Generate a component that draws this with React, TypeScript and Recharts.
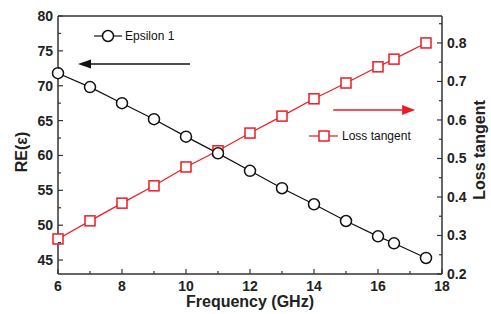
import React from "react"
import { ComposedChart, Line, XAxis, YAxis, ReferenceLine } from "recharts"

const freq = [6, 7, 8, 9, 10, 11, 12, 13, 14, 15, 16, 16.5, 17.5]
const epsilon = [71.8, 69.8, 67.5, 65.2, 62.7, 60.3, 57.8, 55.3, 53.0, 50.6, 48.4, 47.4, 45.3]
const lossTangent = [0.291, 0.338, 0.384, 0.429, 0.478, 0.52, 0.566, 0.61, 0.655, 0.696, 0.738, 0.758, 0.8]

const xMajor = [6, 8, 10, 12, 14, 16, 18]
const xMinor = [7, 9, 11, 13, 15, 17]
const epsMajor = [45, 50, 55, 60, 65, 70, 75, 80]
const epsMinor = [47.5, 52.5, 57.5, 62.5, 67.5, 72.5, 77.5]
const lossMajor = [0.2, 0.3, 0.4, 0.5, 0.6, 0.7, 0.8]
const lossMinor = [0.25, 0.35, 0.45, 0.55, 0.65, 0.75, 0.85]

const data = freq.map((f, i) => ({ f, eps: epsilon[i], loss: lossTangent[i] }))

const AXIS = "#333"
const RED = "#ec1c24"
const FONT = "'Liberation Sans', Arial, sans-serif"

const BottomTick = ({ x, y, payload }: any) => {
  const major = xMajor.includes(payload.value)
  return (
    <g>
      <line x1={x} x2={x} y1={y} y2={y - (major ? 5 : 3)} stroke={AXIS} strokeWidth={1.2} />
      {major && (
        <text x={x} y={y + 17} textAnchor="middle" fontFamily={FONT} fontWeight="bold" fontSize={14} fill="#222">
          {payload.value}
        </text>
      )}
    </g>
  )
}

const LeftTick = ({ x, y, payload }: any) => {
  const major = epsMajor.includes(payload.value)
  return (
    <g>
      <line x1={x} x2={x + (major ? 5 : 3)} y1={y} y2={y} stroke={AXIS} strokeWidth={1.2} />
      {major && (
        <text x={x - 5} y={y + 5} textAnchor="end" fontFamily={FONT} fontWeight="bold" fontSize={14} fill="#222">
          {payload.value}
        </text>
      )}
    </g>
  )
}

const RightTick = ({ x, y, payload }: any) => {
  const major = lossMajor.includes(payload.value)
  return (
    <g>
      <line x1={x} x2={x - (major ? 5 : 3)} y1={y} y2={y} stroke={AXIS} strokeWidth={1.2} />
      {major && (
        <text x={x + 5} y={y + 5} textAnchor="start" fontFamily={FONT} fontWeight="bold" fontSize={14} fill="#222">
          {payload.value.toFixed(1)}
        </text>
      )}
    </g>
  )
}

const SquareDot = (props: any) => {
  const { cx, cy, index } = props
  return <rect key={index} x={cx - 5} y={cy - 5} width={10} height={10} fill="#fff" stroke={RED} strokeWidth={1.5} />
}

const arrowShape = (color: string, head: number, half: number) => (props: any) => {
  const { x1, y1, x2, y2 } = props
  const dir = Math.sign(x2 - x1)
  return (
    <g>
      <line x1={x1} y1={y1} x2={x2 - dir * head} y2={y2} stroke={color} strokeWidth={1.5} />
      <polygon points={`${x2},${y2} ${x2 - dir * head},${y2 - half} ${x2 - dir * head},${y2 + half}`} fill={color} />
    </g>
  )
}

export default function App() {
  return (
    <div style={{ position: "absolute", left: 0, top: 0, width: 491, height: 314, background: "#fff" }}>
      <ComposedChart width={491} height={314} data={data} margin={{ top: 16, right: 5, left: 0, bottom: 0 }}>
        <XAxis
          dataKey="f"
          type="number"
          domain={[6, 18]}
          ticks={[...xMajor, ...xMinor].sort((a, b) => a - b)}
          interval={0}
          tick={BottomTick}
          tickSize={0}
          tickMargin={0}
          tickLine={false}
          height={40}
          axisLine={{ stroke: AXIS, strokeWidth: 1.5 }}
        />
        <YAxis
          yAxisId="left"
          domain={[43, 80]}
          ticks={[...epsMajor, ...epsMinor].sort((a, b) => a - b)}
          interval={0}
          tick={LeftTick}
          tickSize={0}
          tickMargin={0}
          tickLine={false}
          width={58}
          axisLine={{ stroke: AXIS, strokeWidth: 1.5 }}
        />
        <YAxis
          yAxisId="right"
          orientation="right"
          domain={[0.2, 0.87]}
          ticks={[...lossMajor, ...lossMinor].sort((a, b) => a - b)}
          interval={0}
          tick={RightTick}
          tickSize={0}
          tickMargin={0}
          tickLine={false}
          width={44}
          axisLine={{ stroke: AXIS, strokeWidth: 1.5 }}
        />
        <ReferenceLine yAxisId="left" y={80} stroke={AXIS} strokeWidth={1.5} />
        <ReferenceLine
          yAxisId="left"
          segment={[{ x: 10.125, y: 73.1 }, { x: 6.625, y: 73.1 }]}
          shape={arrowShape("#111", 13, 4.5)}
        />
        <ReferenceLine
          yAxisId="right"
          segment={[{ x: 14.6, y: 0.626 }, { x: 17.16, y: 0.626 }]}
          shape={arrowShape(RED, 13, 5)}
        />
        <Line
          yAxisId="right"
          dataKey="loss"
          stroke={RED}
          strokeWidth={1.2}
          dot={SquareDot}
          isAnimationActive={false}
        />
        <Line
          yAxisId="left"
          dataKey="eps"
          stroke="#111"
          strokeWidth={1.2}
          dot={{ r: 5.5, fill: "#fff", stroke: "#111", strokeWidth: 1.5 }}
          isAnimationActive={false}
        />
      </ComposedChart>
      <svg width={491} height={314} style={{ position: "absolute", left: 0, top: 0, pointerEvents: "none" }}>
        <line x1={94} x2={122} y1={36} y2={36} stroke="#111" strokeWidth={1.2} />
        <circle cx={108} cy={36} r={5.5} fill="#fff" stroke="#111" strokeWidth={1.5} />
        <text x={125} y={40} fontFamily={FONT} fontSize={12} fill="#111">Epsilon 1</text>
        <line x1={309} x2={338} y1={136} y2={136} stroke={RED} strokeWidth={1.2} />
        <rect x={319} y={131} width={10} height={10} fill="#fff" stroke={RED} strokeWidth={1.5} />
        <text x={342} y={140} fontFamily={FONT} fontSize={12} fill="#111">Loss tangent</text>
        <text x={250} y={307} textAnchor="middle" fontFamily={FONT} fontWeight="bold" fontSize={16} fill="#222">
          Frequency (GHz)
        </text>
        <text
          transform="translate(27,152) rotate(-90)"
          textAnchor="middle"
          fontFamily={FONT}
          fontWeight="bold"
          fontSize={16}
          fill="#222"
        >
          RE(ε)
        </text>
        <text
          transform="translate(485,150) rotate(-90)"
          textAnchor="middle"
          fontFamily={FONT}
          fontWeight="bold"
          fontSize={16}
          fill="#222"
        >
          Loss tangent
        </text>
      </svg>
    </div>
  )
}
